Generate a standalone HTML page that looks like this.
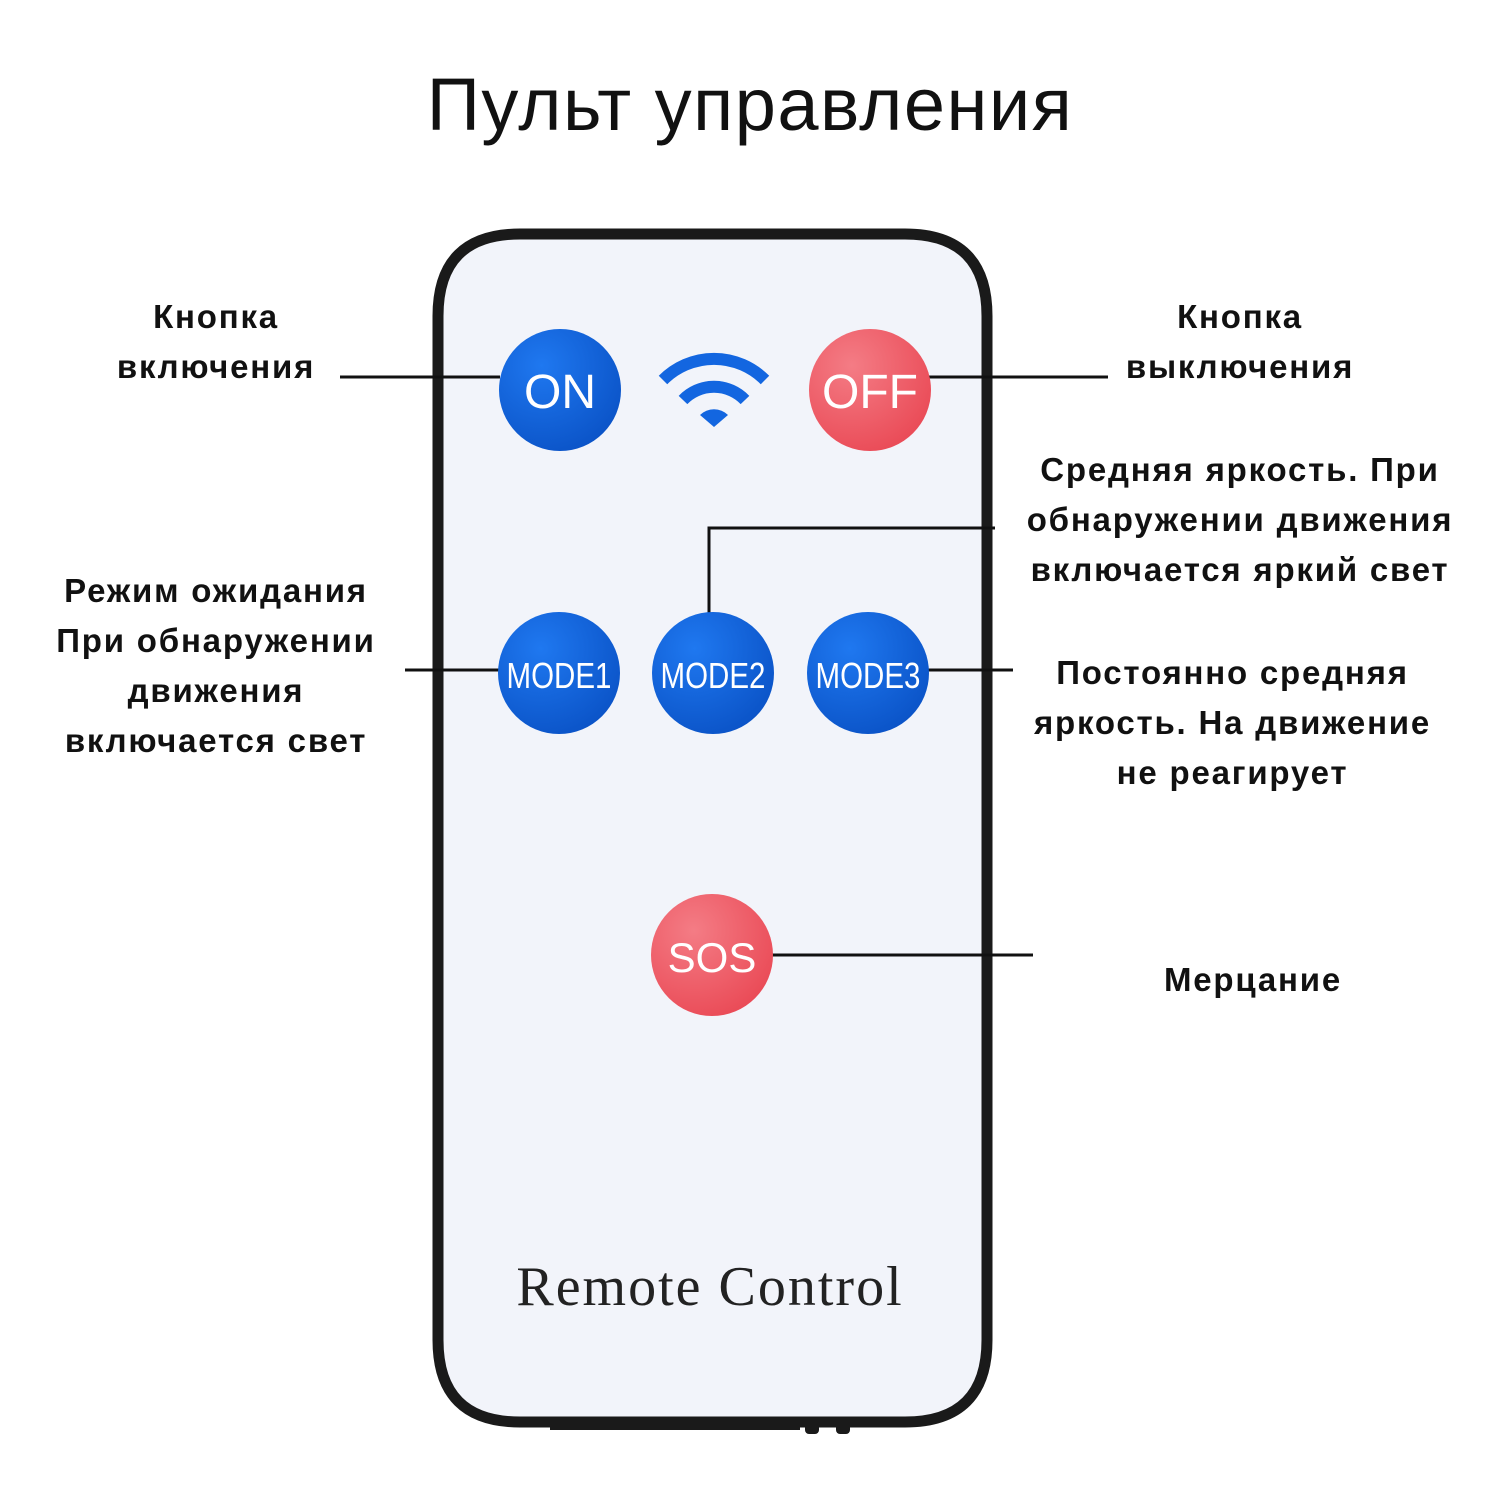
<!DOCTYPE html>
<html><head><meta charset="utf-8"><style>
body{margin:0;width:1500px;height:1500px;background:#fff;position:relative;overflow:hidden;font-family:"Liberation Sans","DejaVu Sans",sans-serif}
.t{position:absolute;font-weight:bold;font-size:33px;letter-spacing:1.8px;color:#111;text-align:center;line-height:50px;white-space:nowrap}
</style></head><body>
<div style="position:absolute;left:0;width:1500px;top:62px;text-align:center;font-size:74px;color:#111;letter-spacing:1.5px">Пульт управления</div>
<svg width="1500" height="1500" style="position:absolute;left:0;top:0">
<defs>
<radialGradient id="b" cx="35%" cy="30%" r="75%"><stop offset="0" stop-color="#1f78f0"/><stop offset="1" stop-color="#0b54c8"/></radialGradient>
<radialGradient id="r" cx="35%" cy="30%" r="75%"><stop offset="0" stop-color="#f47c85"/><stop offset="1" stop-color="#ea4b57"/></radialGradient>
</defs>
<rect x="550" y="1420" width="250" height="10" fill="#1a1a1a"/>
<rect x="805" y="1422" width="14" height="12" rx="4" fill="#1a1a1a"/>
<rect x="836" y="1422" width="14" height="12" rx="4" fill="#1a1a1a"/>
<path d="M520 234 H905 Q987 234 987 316 V1340 Q987 1422 905 1422 H520 Q438 1422 438 1340 V316 Q438 234 520 234 Z" fill="#f2f4fa" stroke="#1a1a1a" stroke-width="11"/>
<g stroke="#111" stroke-width="3" fill="none">
<line x1="340" y1="377" x2="500" y2="377"/>
<line x1="925" y1="377" x2="1108" y2="377"/>
<polyline points="709,615 709,528 995,528"/>
<line x1="405" y1="670" x2="500" y2="670"/>
<line x1="928" y1="670" x2="1013" y2="670"/>
<line x1="762" y1="955" x2="1033" y2="955"/>
</g>
<circle cx="560" cy="390" r="61" fill="url(#b)"/>
<circle cx="870" cy="390" r="61" fill="url(#r)"/>
<circle cx="559" cy="673" r="61" fill="url(#b)"/>
<circle cx="713" cy="673" r="61" fill="url(#b)"/>
<circle cx="868" cy="673" r="61" fill="url(#b)"/>
<circle cx="712" cy="955" r="61" fill="url(#r)"/>
<g fill="none" stroke="#1366e0" stroke-width="12" stroke-linecap="butt">
<path d="M663 380 A72 72 0 0 1 765 380"/>
<path d="M683 400 A43 43 0 0 1 745 400"/>
</g>
<path d="M700 415 L714 427 L728 415 A20 20 0 0 0 700 415Z" fill="#1366e0"/>
<g fill="#fff" font-family="Liberation Sans,sans-serif" text-anchor="middle">
<text x="560" y="408" font-size="48">ON</text>
<text x="870" y="408" font-size="48">OFF</text>
<text x="559" y="688" font-size="36" transform="translate(559 0) scale(0.82 1) translate(-559 0)">MODE1</text>
<text x="713" y="688" font-size="36" transform="translate(713 0) scale(0.82 1) translate(-713 0)">MODE2</text>
<text x="868" y="688" font-size="36" transform="translate(868 0) scale(0.82 1) translate(-868 0)">MODE3</text>
<text x="712" y="972" font-size="42">SOS</text>
</g>
<text x="710" y="1305" font-family="Liberation Serif,serif" font-size="56" fill="#222" text-anchor="middle" letter-spacing="2">Remote Control</text>
</svg>
<div class="t" style="left:66px;width:300px;top:292px">Кнопка<br>включения</div>
<div class="t" style="left:1090px;width:300px;top:292px">Кнопка<br>выключения</div>
<div class="t" style="left:990px;width:500px;top:445px">Средняя яркость. При<br>обнаружении движения<br>включается яркий свет</div>
<div class="t" style="left:16px;width:400px;top:566px">Режим ожидания<br>При обнаружении<br>движения<br>включается свет</div>
<div class="t" style="left:1000px;width:465px;top:648px">Постоянно средняя<br>яркость. На движение<br>не реагирует</div>
<div class="t" style="left:1103px;width:300px;top:955px">Мерцание</div>
</body></html>
